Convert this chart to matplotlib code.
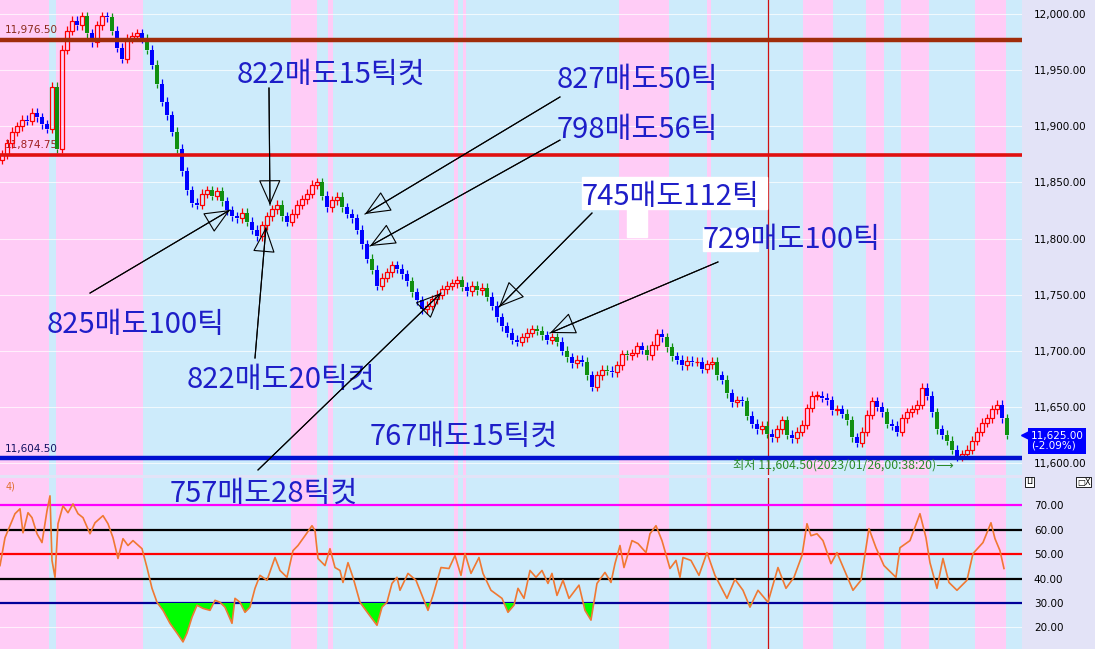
import numpy as np
import matplotlib.pyplot as plt
from matplotlib.patches import Rectangle

# price bars (close of each bar), first open
open0 = 11870
closes = [11875, 11885, 11895, 11900, 11906, 11905, 11912, 11908, 11902, 11898,
          11935, 11880, 11968, 11985, 11994, 11990, 11998, 11983, 11975, 11990,
          11998, 11997, 11985, 11970, 11960, 11978, 11980, 11983, 11978, 11968,
          11955, 11938, 11922, 11910, 11895, 11880, 11860, 11843, 11832, 11830,
          11840, 11843, 11838, 11842, 11833, 11825, 11820, 11818, 11823, 11815,
          11808, 11802, 11812, 11820, 11826, 11830, 11820, 11815, 11822, 11830,
          11835, 11840, 11848, 11850, 11838, 11828, 11834, 11837, 11828, 11822,
          11818, 11808, 11795, 11782, 11772, 11758, 11765, 11770, 11776, 11773,
          11768, 11762, 11752, 11745, 11737, 11740, 11746, 11750, 11755, 11758,
          11760, 11763, 11757, 11753, 11758, 11754, 11756, 11748, 11740, 11730,
          11722, 11716, 11710, 11708, 11712, 11716, 11719, 11718, 11714, 11710,
          11712, 11708, 11700, 11694, 11689, 11692, 11690, 11678, 11668, 11678,
          11683, 11682, 11681, 11687, 11697, 11696, 11698, 11704, 11701, 11696,
          11705, 11715, 11712, 11703, 11695, 11692, 11687, 11691, 11690, 11690,
          11684, 11688, 11690, 11678, 11674, 11662, 11654, 11656, 11655, 11642,
          11635, 11630, 11633, 11626, 11623, 11630, 11638, 11625, 11622, 11628,
          11634, 11649, 11660, 11660, 11658, 11656, 11647, 11648, 11644, 11638,
          11623, 11618, 11628, 11643, 11655, 11650, 11645, 11635, 11633, 11628,
          11640, 11645, 11648, 11652, 11667, 11660, 11645, 11630, 11625, 11620,
          11612, 11606, 11608, 11612, 11620, 11628, 11636, 11640, 11648, 11652,
          11640, 11625]
green_idx = [11, 17, 22, 29, 31, 35, 42, 44, 49, 56, 64, 68, 74, 82, 92, 95, 97,
             107, 108, 111, 113, 117, 121, 125, 129, 133, 134, 139, 143, 145, 149,
             153, 157, 169, 170, 177, 187, 189, 190, 201]

# indicator (bar position, value)
rsi_t = [-0.4, 0.6, 1.6, 2.6, 3.6, 4.2, 5.2, 6, 7, 8, 9, 9.6, 10, 10.6, 11.2,
         12.2, 13.2, 14.2, 15.2, 16.2, 17.6, 18.6, 20.2, 21.2, 22.2, 23.2, 24.2,
         25.2, 26.2, 28, 29, 30, 31, 32.2, 33.6, 35, 36.2, 37, 38, 39, 40.2, 41.6,
         42.6, 43.6, 44.6, 46, 46.6, 47.6, 48.6, 49.6, 50.6, 51.6, 53, 54.6, 55.6,
         57, 58.2, 59.2, 60.6, 62, 62.6, 63.2, 64.6, 65.6, 66.6, 67.6, 68.2, 69.2,
         70.2, 71.6, 73.2, 75, 76, 77, 78, 79, 79.6, 81.2, 82.8, 85.2, 86.2, 87.8,
         89.4, 90.6, 91.8, 92.6, 93.8, 95.4, 96.2, 97.8, 100, 101.2, 102.4, 103.2,
         104.4, 105.6, 106.8, 108, 109.2, 110, 111, 112.2, 113.4, 115.4, 116.6,
         117.8, 119, 120.6, 121.8, 122.6, 123.6, 124.4, 126, 127.2, 128.8, 129.6,
         130.8, 132, 133.6, 134.8, 135.6, 136.2, 137.8, 139.4, 141, 142.6, 145,
         146.6, 148.2, 149.6, 151.2, 153.2, 155.2, 156.8, 158.4, 160, 161, 161.8,
         163, 164.2, 165.8, 167, 170.2, 171.8, 173.4, 174.8, 176.4, 178.8, 179.6,
         181.6, 183.6, 184.8, 185.6, 187, 188.2, 189.4, 191, 193, 194.2, 196.2,
         197.8, 198.6, 199.6, 200.4]
rsi_v = [45.3, 56.7, 61.6, 66.5, 68.5, 58.7, 66.9, 64.9, 58.3, 54.7, 67.7, 73.8,
         47.4, 40.5, 62.4, 69.7, 66.9, 70.5, 66.5, 64.9, 58.3, 62.8, 65.7, 62.4,
         56.7, 48.2, 56.3, 53.5, 55.5, 52.2, 44.5, 36, 30.3, 27, 21.7, 17.7, 14.1,
         17.7, 24.2, 29.1, 27.8, 27, 31.1, 30.3, 28.3, 21.7, 31.9, 30.3, 26.2,
         28.3, 36, 41.3, 39.3, 48.6, 43.3, 40.5, 51.4, 53.5, 57.5, 61.6, 59.6,
         48.2, 45.3, 52.2, 44.5, 43.3, 38.4, 46.5, 40.5, 30.3, 25.8, 20.9, 28.3,
         30.3, 38, 40.5, 35.2, 42.1, 39.3, 27.0, 33.1, 44.5, 44.1, 49.4, 41.3,
         50.2, 42.1, 48.6, 42.1, 35.2, 31.9, 26.2, 29.1, 36, 31.9, 43.3, 40.5,
         43.3, 38, 42.1, 33.1, 39.3, 31.9, 37.3, 27, 23, 38, 42.5, 38.4, 46.1,
         53.5, 44.5, 55.5, 54.3, 50.6, 58.3, 61.6, 55.5, 44.1, 47.4, 40.5, 48.6,
         47.4, 41.3, 50.6, 41.3, 31.9, 39.7, 35.2, 28.3, 35.2, 30.3, 44.5, 36,
         40.5, 49.4, 62.4, 57.5, 58.3, 55.5, 46.1, 50.6, 35.2, 39.3, 60.4, 52.6,
         45.3, 40.5, 52.6, 55.5, 66.5, 56.7, 46.5, 36, 48.2, 38.4, 35.2, 39.3,
         50.2, 54.7, 62.8, 56.3, 51.4, 44.1]

# session shading (bar ranges, pink)
pink_bands = [(-0.4, 9.4), (10.8, 28.2), (57.8, 63), (65.2, 66.2), (90.4, 91.2),
              (92.2, 92.8), (123.4, 133.4), (141, 141.8), (160.2, 166.2),
              (172.8, 176.4), (179.8, 185.4), (194.6, 200.8)]

high_line, mid_line, low_line = 11976.5, 11874.75, 11604.5
last_price = 11625.0
mark_bar = 153.2

# annotations: text, text pos (bar, price), arrow tail, arrow tip
notes = [
    ("822매도15틱컷", (47, 11945.7), (53.4, 11934.1), (53.6, 11829.8)),
    ("827매도50틱", (111, 11941.2), (111.6, 11926.1), (72.6, 11821.8)),
    ("798매도56틱", (111, 11896.7), (111.6, 11887.7), (73.6, 11793.3)),
    ("745매도112틱", (116, 11837.0), (118, 11822.7), (99.4, 11739.0)),
    ("729매도100틱", (140.2, 11798.7), (143.2, 11779.1), (109.6, 11715.8)),
    ("825매도100틱", (9, 11722.9), (17.6, 11751.4), (45.6, 11825.4)),
    ("822매도20틱컷", (37, 11673.9), (50.6, 11693.5), (52.8, 11810.2)),
    ("767매도15틱컷", (73.6, 11623.2), None, None),
    ("757매도28틱컷", (33.6, 11572.4), (51.2, 11593.8), (87.8, 11751.4)),
]

PINK = '#ffccf6'
BLUE = '#cdebfb'
KFONT = ['Noto Sans CJK KR', 'DejaVu Sans']

fig = plt.figure(figsize=(10.95, 6.49), dpi=100, facecolor='#e3e3f7')
ax = fig.add_axes([0, 0.2681, 0.9333, 0.7319])
ax2 = fig.add_axes([0, 0, 0.9333, 0.2635])
ax.set_zorder(3)
xmin, xmax = -0.4, 204.0

for a in (ax, ax2):
    a.set_facecolor(BLUE)
    for b0, b1 in pink_bands:
        a.axvspan(b0, b1, color=PINK, lw=0, zorder=0)
    a.axvline(mark_bar, color='#d01010', lw=0.9, zorder=1)
    a.set_xlim(xmin, xmax)
    a.set_xticks([])
    for s in a.spines.values():
        s.set_visible(False)
    a.yaxis.tick_right()
    a.tick_params(axis='y', length=0, pad=8.6, labelsize=7.5)

# ---- price panel ----
ax.set_ylim(11589.3, 12012.5)
yt = np.arange(11600, 12001, 50)
ax.set_yticks(yt)
ax.set_yticklabels([f'{v:,.2f}' for v in yt])
for v in yt:
    ax.axhline(v, color='white', lw=0.8, alpha=0.7, zorder=0.5)

c = np.array(closes, dtype=float)
o = np.r_[open0, c[:-1]]
x = np.arange(len(c))
up = c >= o
wick = 4.0
top = np.maximum(o, c)
bot = np.minimum(o, c)
cols = np.where(up, '#ff0000', '#0000ff').astype(object)
for i in green_idx:
    if not up[i]:
        cols[i] = '#109010'

ax.text(0.6, 11985.7, '11,976.50', fontsize=7.5, color='#8a2a1a', va='center', zorder=1.5)
ax.text(0.6, 11883.3, '11,874.75', fontsize=7.5, color='#a02020', va='center', zorder=1.5)
ax.text(0.6, 11612.5, '11,604.50', fontsize=7.5, color='#101060', va='center', zorder=1.5)

ax.vlines(x, top, top + wick, colors=cols, lw=0.9, zorder=2)
ax.vlines(x, bot - wick, bot, colors=cols, lw=0.9, zorder=2)
ax.bar(x[up], np.maximum(c - o, 0.4)[up], bottom=o[up], width=0.7,
       facecolor='none', edgecolor='#ff0000', lw=0.9, zorder=2)
ax.bar(x[~up], (o - c)[~up], bottom=c[~up], width=0.7,
       color=cols[~up].tolist(), lw=0, zorder=2)

ax.axhline(high_line, color='#a02c0a', lw=3.2, zorder=2.5)
ax.axhline(mid_line, color='#e01010', lw=2.6, zorder=2.5)
ax.axhline(low_line, color='#0010d0', lw=3.2, zorder=2.5)

ax.text(146.2, 11598.2, '최저 11,604.50(2023/01/26,00:38:20)⟶', family=KFONT,
        fontsize=8.8, color='#2a8a2a', va='center', zorder=3)

# white patches behind upper-right notes
ax.add_patch(Rectangle((116, 11826), 37, 29, color='white', zorder=3))
ax.add_patch(Rectangle((125, 11801), 4, 26, color='white', zorder=3))
ax.add_patch(Rectangle((140.2, 11789), 11, 20, color='white', zorder=3))

for txt, (tx, ty), tail, tip in notes:
    ax.text(tx, ty, txt, family=KFONT, fontsize=21, color='#1e1ec8',
            va='center', ha='left', zorder=4, clip_on=False)
    if tail is None:
        continue
    ax.plot([tail[0], tip[0]], [tail[1], tip[1]], color='black', lw=0.8,
            zorder=4, clip_on=False)
    ax.annotate('', xy=tip, xytext=tail,
                arrowprops=dict(arrowstyle='-|>,head_length=1.65,head_width=0.72',
                                fc='none', ec='black', lw=0.8, mutation_scale=10,
                                shrinkA=0, shrinkB=0),
                zorder=4, annotation_clip=False)

# last price marker
ax.plot([204.8], [last_price], marker='<', ms=7, color='#0000ff', clip_on=False, zorder=5)
fig.text(1031 / 1095, 1 - 441 / 649, '11,625.00\n(-2.09%)', fontsize=7.5,
         color='white', va='center', ha='left', linespacing=1.0,
         bbox=dict(boxstyle='square,pad=0.25', fc='#0000ff', ec='none'))

# ---- indicator panel ----
ax2.set_ylim(11.2, 81.1)
ax2.set_yticks([20, 30, 40, 50, 60, 70])
ax2.set_yticklabels([f'{v:.2f}' for v in [20, 30, 40, 50, 60, 70]])
ax2.axhline(20, color='white', lw=0.8, alpha=0.7, zorder=0.5)
for lvl, col in [(70, '#ff00ff'), (60, 'black'), (50, '#ff0000'),
                 (40, 'black'), (30, '#000099')]:
    ax2.axhline(lvl, color=col, lw=1.6, zorder=1.5)
rt = np.array(rsi_t)
rv = np.array(rsi_v)
ax2.fill_between(rt, rv, 30, where=rv < 30, interpolate=True, color='#00ff00',
                 lw=0, zorder=2)
ax2.plot(rt, rv, color='#f07832', lw=1.2, zorder=3)
ax2.text(0.8, 77.5, '4)', fontsize=7, color='#e07030', va='center')

fig.text(1026 / 1095, 1 - 482 / 649, 'LI', fontsize=6, va='center',
         bbox=dict(boxstyle='square,pad=0.1', fc='white', ec='black', lw=0.6))
fig.text(1077 / 1095, 1 - 482 / 649, '□X', fontsize=6, va='center',
         bbox=dict(boxstyle='square,pad=0.1', fc='white', ec='black', lw=0.6))

fig.savefig('out.png', dpi=100, facecolor=fig.get_facecolor())
